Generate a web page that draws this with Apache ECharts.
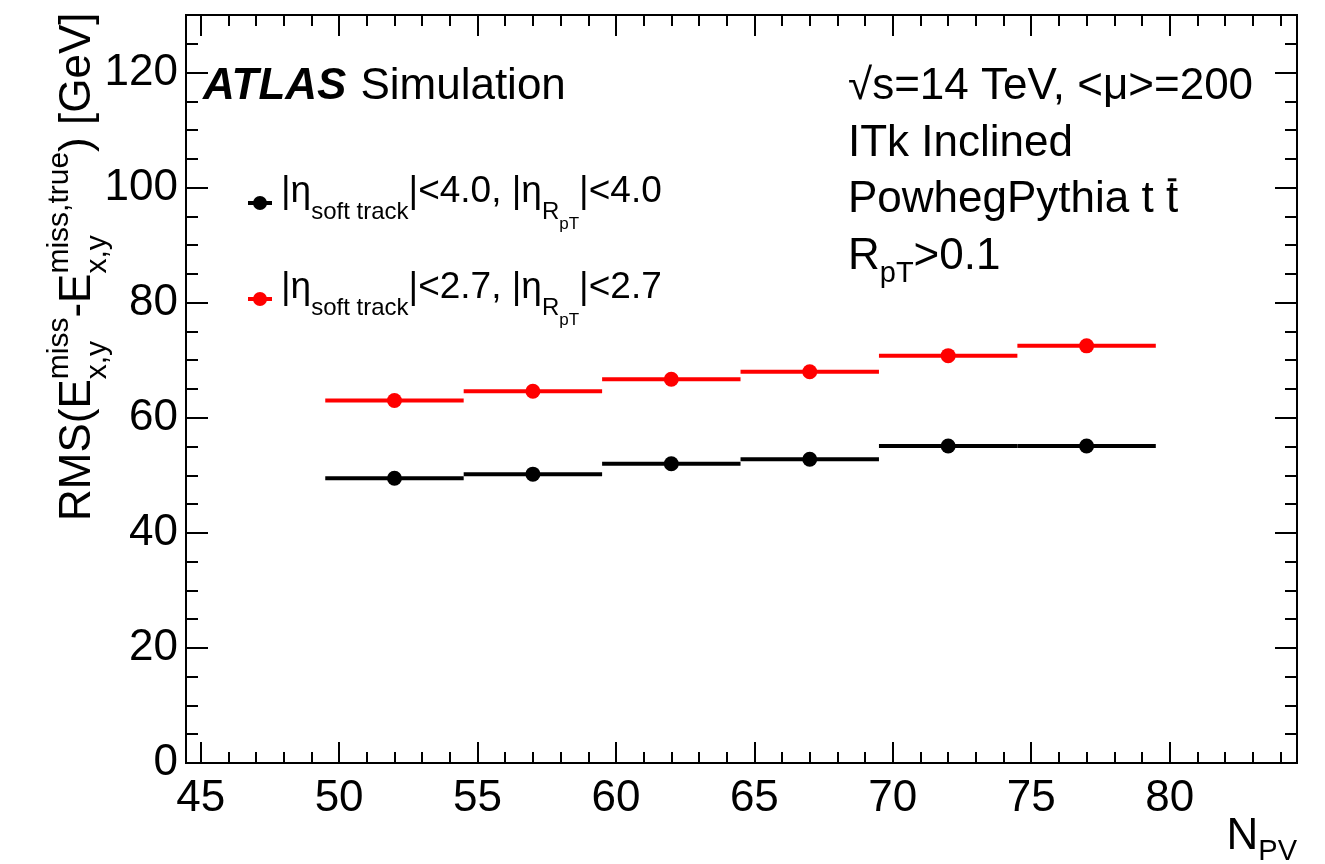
<!DOCTYPE html>
<html>
<head>
<meta charset="utf-8">
<script src="https://cdn.jsdelivr.net/npm/echarts@6/dist/echarts.min.js"></script>
<style>
  html, body { margin: 0; padding: 0; background: #fff; }
  #main { width: 1325px; height: 864px; }
</style>
</head>
<body>
<div id="main"></div>
<script>
// bins in N_PV (centre, low edge, high edge)
var nPV     = [52, 57, 62, 67, 72, 77];
var binLow  = [49.5, 54.5, 59.5, 64.5, 69.5, 74.5];
var binHigh = [54.5, 59.5, 64.5, 69.5, 74.5, 79.5];
// RMS values [GeV]
var rmsEta40 = [49.5, 50.2, 52.0, 52.8, 55.1, 55.1];
var rmsEta27 = [63.0, 64.6, 66.7, 68.0, 70.8, 72.5];

var xMajor = [45, 50, 55, 60, 65, 70, 75, 80];
var xMinor = [45, 46, 47, 48, 49, 50, 51, 52, 53, 54, 55, 56, 57, 58, 59, 60, 61, 62, 63, 64,
              65, 66, 67, 68, 69, 70, 71, 72, 73, 74, 75, 76, 77, 78, 79, 80, 81, 82, 83, 84];
var yMajor = [0, 20, 40, 60, 80, 100, 120];
var yMinor = [0, 5, 10, 15, 20, 25, 30, 35, 40, 45, 50, 55, 60, 65, 70, 75, 80, 85, 90, 95,
              100, 105, 110, 115, 120, 125, 130];

var FONT = '"Liberation Sans", Arial, Helvetica, sans-serif';
var MAIN = 44;

// --- little helper to set ROOT-like text with sub/superscripts ---
var mctx = document.createElement('canvas').getContext('2d');
function tw(str, size, weight, style) {
    mctx.font = (style || 'normal') + ' ' + (weight || 'normal') + ' ' + size + 'px ' + FONT;
    return mctx.measureText(str).width;
}
function txt(str, x, base, size, extra) {
    var st = { text: str, x: 0, y: 0, fill: '#000', fontSize: size, fontFamily: FONT,
               align: 'left', verticalAlign: 'middle' };
    if (extra) { for (var k in extra) st[k] = extra[k]; }
    return { type: 'text', x: x, y: base - 0.347 * size, style: st, silent: true };
}
// parts: [text, kind] with kind m / sub / sup / ss / bar, or {sup, sub}
function mathText(parts, x0, base, o) {
    o = o || {};
    var M = o.main || MAIN, S = o.script || 29, SS = o.ss || 20;
    var subDy = o.subDy || 16, supDy = o.supDy || -20, ssDy = o.ssDy || 9;
    var out = [], x = x0;
    parts.forEach(function (p) {
        if (!Array.isArray(p)) {
            out.push(txt(p.sup, x, base + supDy, S));
            out.push(txt(p.sub, x, base + subDy, S));
            x += Math.max(tw(p.sup, S), tw(p.sub, S));
            return;
        }
        var s = p[0], k = p[1];
        if (k === 'sub') { out.push(txt(s, x, base + subDy, S)); x += tw(s, S); }
        else if (k === 'sup') { out.push(txt(s, x, base + supDy, S)); x += tw(s, S); }
        else if (k === 'ss') { out.push(txt(s, x, base + subDy + ssDy, SS)); x += tw(s, SS); }
        else if (k === 'bar') {
            var w = tw(s, M);
            out.push(txt(s, x, base, M));
            out.push({ type: 'line', silent: true,
                       shape: { x1: x + w * 0.15, y1: base - M * 0.8, x2: x + w * 0.85, y2: base - M * 0.8 },
                       style: { stroke: '#000', lineWidth: 3 } });
            x += w;
        }
        else { out.push(txt(s, x, base, M)); x += tw(s, M); }
    });
    return out;
}

var graphics = [];
// ATLAS Simulation
graphics.push(txt('ATLAS', 203, 102, MAIN, { fontWeight: 'bold', fontStyle: 'italic' }));
graphics.push(txt('Simulation', 203 + tw('ATLAS', MAIN, 'bold', 'italic') + 14, 102, MAIN));
// right-hand labels
graphics = graphics.concat(mathText([['√s=14 TeV, <μ>=200', 'm']], 848, 102));
graphics = graphics.concat(mathText([['ITk Inclined', 'm']], 848, 159));
graphics = graphics.concat(mathText([['PowhegPythia t ', 'm'], ['t', 'bar']], 848, 215));
graphics = graphics.concat(mathText([['R', 'm'], ['pT', 'sub'], ['>0.1', 'm']], 848, 272, { subDy: 12 }));
// legend
var legendRows = [
    { color: '#000000', y: 203, parts: [['|η', 'm'], ['soft track', 'sub'], ['|<4.0, |η', 'm'], ['R', 'sub'], ['pT', 'ss'], ['|<4.0', 'm']] },
    { color: '#ff0000', y: 299, parts: [['|η', 'm'], ['soft track', 'sub'], ['|<2.7, |η', 'm'], ['R', 'sub'], ['pT', 'ss'], ['|<2.7', 'm']] }
];
legendRows.forEach(function (r) {
    graphics.push({ type: 'line', silent: true, shape: { x1: 248, y1: r.y, x2: 272, y2: r.y },
                    style: { stroke: r.color, lineWidth: 4 } });
    graphics.push({ type: 'circle', silent: true, shape: { cx: 260, cy: r.y, r: 7 },
                    style: { fill: r.color } });
    graphics = graphics.concat(mathText(r.parts, 281, r.y + 2,
        { main: 37, script: 24, ss: 17, subDy: 16, ssDy: 9 }));
});
// y axis title (rotated)
graphics.push({
    type: 'group', x: 93, y: 521, rotation: Math.PI / 2,
    children: mathText([['RMS(E', 'm'], { sup: 'miss', sub: 'x,y' }, ['-E', 'm'],
                        { sup: 'miss,true', sub: 'x,y' }, [') [GeV]', 'm']], 0, 0,
                       { script: 30, subDy: 15, supDy: -23 })
});
// x axis title
var npvW = tw('N', MAIN) + tw('PV', 29);
graphics = graphics.concat(mathText([['N', 'm'], ['PV', 'sub']], 1297 - npvW, 852, { subDy: 10 }));

function xAx(pos, ticks, len, labels) {
    return {
        type: 'value', position: pos, min: 44.47, max: 84.6,
        axisLine: { show: true, onZero: false, lineStyle: { color: '#000', width: 2 } },
        axisTick: { show: true, inside: true, length: len, customValues: ticks, lineStyle: { color: '#000', width: 2 } },
        axisLabel: labels ? { show: true, customValues: xMajor, color: '#000', fontSize: MAIN, fontFamily: FONT, margin: 14 } : { show: false },
        splitLine: { show: false }
    };
}
function yAx(pos, ticks, len, labels) {
    return {
        type: 'value', position: pos, min: 0, max: 130,
        axisLine: { show: true, onZero: false, lineStyle: { color: '#000', width: 2 } },
        axisTick: { show: true, inside: true, length: len, customValues: ticks, lineStyle: { color: '#000', width: 2 } },
        axisLabel: labels ? { show: true, customValues: yMajor, color: '#000', fontSize: MAIN, fontFamily: FONT, margin: 8 } : { show: false },
        splitLine: { show: false }
    };
}

function binRows(vals) {
    return nPV.map(function (x, i) { return [x, binLow[i], binHigh[i], vals[i]]; });
}
function barSeries(vals, color) {
    return {
        type: 'custom', xAxisIndex: 0, yAxisIndex: 0, silent: true,
        data: binRows(vals),
        encode: { x: [1, 2], y: 3 },
        renderItem: function (params, api) {
            var a = api.coord([api.value(1), api.value(3)]);
            var b = api.coord([api.value(2), api.value(3)]);
            return { type: 'line', shape: { x1: a[0], y1: a[1], x2: b[0], y2: b[1] },
                     style: { stroke: color, lineWidth: 4 } };
        }
    };
}
function dotSeries(vals, color) {
    return {
        type: 'scatter', xAxisIndex: 0, yAxisIndex: 0, silent: true,
        symbol: 'circle', symbolSize: 15,
        itemStyle: { color: color, opacity: 1 },
        data: nPV.map(function (x, i) { return [x, vals[i]]; })
    };
}

var option = {
    animation: false,
    backgroundColor: '#fff',
    grid: { left: 186, right: 28, top: 15, bottom: 101, containLabel: false },
    xAxis: [xAx('bottom', xMajor, 21, true), xAx('bottom', xMinor, 11, false),
            xAx('top', xMajor, 21, false), xAx('top', xMinor, 11, false)],
    yAxis: [yAx('left', yMajor, 22, true), yAx('left', yMinor, 12, false),
            yAx('right', yMajor, 22, false), yAx('right', yMinor, 12, false)],
    series: [
        barSeries(rmsEta40, '#000000'), dotSeries(rmsEta40, '#000000'),
        barSeries(rmsEta27, '#ff0000'), dotSeries(rmsEta27, '#ff0000')
    ],
    graphic: graphics
};

var chart = echarts.init(document.getElementById('main'));
chart.setOption(option);
</script>
</body>
</html>
